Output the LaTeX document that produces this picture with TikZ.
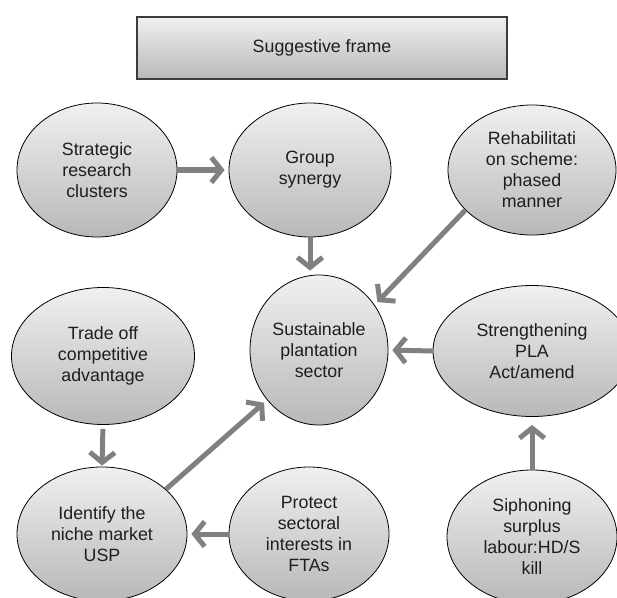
\documentclass[tikz,border=0pt]{standalone}
\usepackage{fontspec}
\setmainfont{Liberation Sans}
\usetikzlibrary{shapes.geometric,arrows.meta}
\definecolor{fillTop}{RGB}{240,240,240}
\definecolor{fillBot}{RGB}{184,184,184}
\definecolor{arrowgray}{RGB}{128,128,128}
\definecolor{txtgray}{RGB}{30,30,30}
\definecolor{boxborder}{RGB}{60,60,60}
\begin{document}
\begin{tikzpicture}[x=1bp,y=-1bp,
  bubble/.style={ellipse, draw=black, line width=0.8bp, top color=fillTop, bottom color=fillBot,
    inner sep=0pt, align=center, text=txtgray, font=\fontsize{17.8bp}{21bp}\selectfont},
  titlebox/.style={rectangle, draw=boxborder, line width=1.8bp, top color=fillTop, bottom color=fillBot,
    minimum width=370bp, minimum height=62bp, inner sep=0pt, text=txtgray, font=\fontsize{17.8bp}{21bp}\selectfont},
  flow/.style={draw=arrowgray, line width=5bp, -{Straight Barb[length=10bp,width=25bp]}, shorten >=4bp}]
\useasboundingbox (0,0) rectangle (617,598);
\node[titlebox] (title) at (322,48) {Suggestive frame};
\node[bubble, minimum width=160bp, minimum height=134bp] (strat) at (97,170) {Strategic\\research\\clusters};
\node[bubble, minimum width=162bp, minimum height=134bp] (group) at (310,170) {Group\\synergy};
\node[bubble, minimum width=168bp, minimum height=130bp] (rehab) at (532,170) {Rehabilitati\\on scheme:\\phased\\manner};
\node[bubble, minimum width=138bp, minimum height=150bp] (sust) at (319,350) {Sustainable\\plantation\\sector};
\node[bubble, minimum width=198bp, minimum height=131bp] (stren) at (532,351) {Strengthening\\PLA\\Act/amend};
\node[bubble, minimum width=183bp, minimum height=137bp] (trade) at (103,356) {Trade off\\competitive\\advantage};
\node[bubble, minimum width=170bp, minimum height=134bp] (ident) at (102,534) {Identify the\\niche market\\USP};
\node[bubble, minimum width=160bp, minimum height=134bp] (prot) at (309,534) {Protect\\sectoral\\interests in\\FTAs};
\node[bubble, minimum width=170bp, minimum height=134bp] (siph) at (532,537) {Siphoning\\surplus\\labour:HD/S\\kill};
\draw[flow] (strat.east) -- (group.west);
\draw[flow] (group.south) -- (sust.north -| group.south);
\draw[flow] (rehab.211) -- (sust.39);
\draw[flow] (stren.west) -- (sust.east);
\draw[flow, shorten >=8bp] (siph.north) -- (stren.south);
\draw[flow, shorten <=4bp, shorten >=1bp] (trade.south) -- (ident.north);
\draw[flow] (ident.35) -- (sust.224);
\draw[flow] (prot.west) -- (ident.east);
\end{tikzpicture}
\end{document}
